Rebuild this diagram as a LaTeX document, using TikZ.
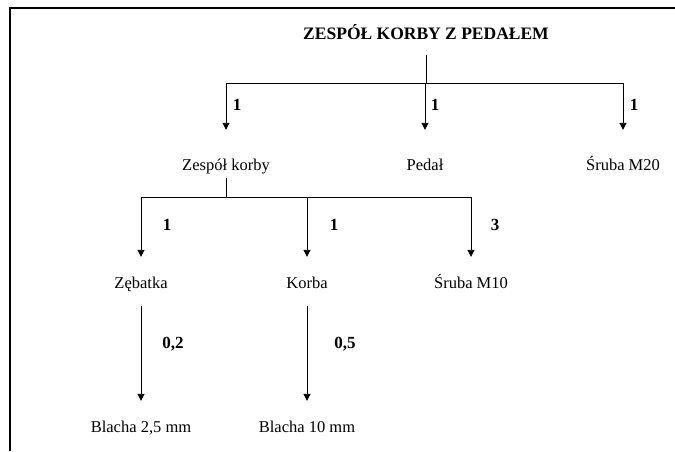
\documentclass[tikz,border=0pt]{standalone}
\usepackage{fontspec}
\setmainfont{Liberation Serif}
\usetikzlibrary{arrows.meta}
\begin{document}
\begin{tikzpicture}[x=1pt,y=-1pt,
  part/.style={font=\fontsize{16.5}{18}\selectfont, inner sep=0pt, text height=11pt, text depth=4pt, anchor=base},
  qty/.style={font=\bfseries\fontsize{17}{18}\selectfont, inner sep=0pt, anchor=base},
  conn/.style={line width=0.9pt, draw=black},
  arr/.style={conn, -{Triangle[length=7pt,width=7pt]}},
  frame/.style={line width=2.5pt}
]
\useasboundingbox (0,0) rectangle (675,451);
\draw[frame] (10,451) -- (10,8) -- (675,8);

% nodes
\node[part, font=\bfseries\fontsize{17.5}{20}\selectfont] (root) at (426,39) {ZESPÓŁ KORBY Z PEDAŁEM};
\node[part] (zk) at (226,170) {Zespół korby};
\node[part] (pd) at (425,170) {Pedał};
\node[part] (m20) at (623,170) {Śruba M20};
\node[part] (zb) at (141,288) {Zębatka};
\node[part] (kb) at (307,288) {Korba};
\node[part] (m10) at (471,288) {Śruba M10};
\node[part] (b25) at (141,432) {Blacha 2,5 mm};
\node[part] (b10) at (307,432) {Blacha 10 mm};

% quantities
\node[qty] (q1) at (237,110.5) {1};
\node[qty] (q2) at (435,110.5) {1};
\node[qty] (q3) at (634,110.5) {1};
\node[qty] (q4) at (167,230.5) {1};
\node[qty] (q5) at (334,230.5) {1};
\node[qty] (q6) at (495,230.5) {3};
\node[qty] (q7) at (173,348.5) {0,2};
\node[qty] (q8) at (345,348.5) {0,5};

% level 1
\coordinate (t1) at (426,83);
\draw[conn, shorten <=12pt] (root.south) -- (t1);
\draw[conn] (zk |- t1) -- (m20 |- t1);
\draw[arr, shorten >=29pt] (zk |- t1) -- (zk.north);
\draw[arr, shorten >=29pt] (pd |- t1) -- (pd.north);
\draw[arr, shorten >=29pt] (m20 |- t1) -- (m20.north);

% level 2
\coordinate (t2) at (226,197);
\draw[conn, shorten <=4pt] (zk.south) -- (t2);
\draw[conn] (zb |- t2) -- (m10 |- t2);
\draw[arr, shorten >=20pt] (zb |- t2) -- (zb.north);
\draw[arr, shorten >=20pt] (kb |- t2) -- (kb.north);
\draw[arr, shorten >=20pt] (m10 |- t2) -- (m10.north);

% level 3
\draw[arr, shorten <=14pt, shorten >=20pt] (zb.south) -- (b25.north);
\draw[arr, shorten <=14pt, shorten >=20pt] (kb.south) -- (b10.north);
\end{tikzpicture}
\end{document}
